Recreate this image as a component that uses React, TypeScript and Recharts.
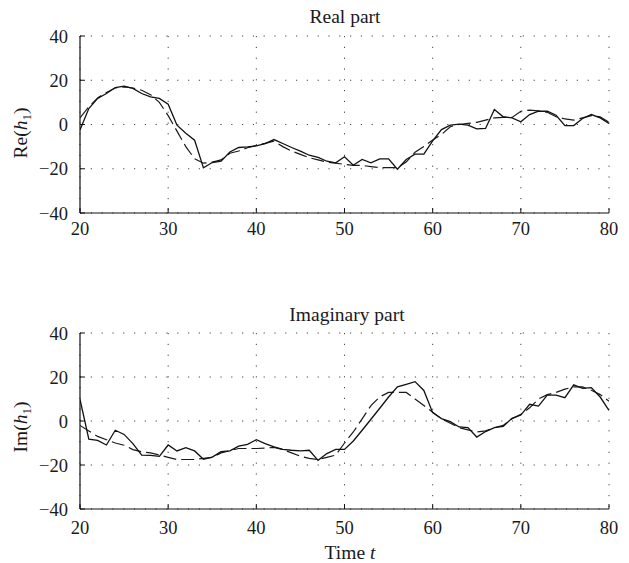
import React from "react";
import { LineChart, Line, XAxis, YAxis, CartesianGrid } from "recharts";

const times = [
  20, 21, 22, 23, 24, 25, 26, 27, 28, 29, 30, 31, 32, 33, 34, 35, 36, 37, 38, 39, 40,
  41, 42, 43, 44, 45, 46, 47, 48, 49, 50, 51, 52, 53, 54, 55, 56, 57, 58, 59, 60,
  61, 62, 63, 64, 65, 66, 67, 68, 69, 70, 71, 72, 73, 74, 75, 76, 77, 78, 79, 80,
];

const reActual = [
  -2.5, 7.2, 11.8, 14, 16.7, 17.3, 16.3, 14, 12.5, 11.8, 9.2, -0.3, -4, -7.1, -19.6, -17.2, -16.6, -12.4, -10.4, -10.1, -9.7,
  -8.6, -6.8, -8.6, -10.4, -12, -13.9, -14.9, -16.6, -17.3, -14.6, -18.4, -15.8, -17.3, -15.5, -15.5, -20.2, -15.8, -13.4, -13.4, -7.4,
  -2.3, -0.3, 0.2, -0.3, -2, -1.8, 6.8, 3.5, 3, 1.2, 4.5, 6, 6, 4.2, -0.5, -0.5, 2.7, 4.5, 3, 0.5,
];

const reEstimate = [
  3, 8, 12, 14.5, 16.5, 17, 16.5, 15.5, 13.5, 10, 4, -3, -10, -15.5, -17.5, -17, -16, -13, -12, -10.5, -9.5,
  -8.5, -7.5, -10, -12, -13.5, -15, -16, -17, -17.5, -18, -18.5, -18.5, -19, -19.5, -19.5, -19.5, -17, -12.5, -10, -7,
  -4.5, -1, 0, 0.5, 1, 2, 3, 3.2, 3.2, 6, 6.5, 6.2, 5.5, 3.5, 2.5, 2, 3, 4, 3.5, 1,
];

const imActual = [
  9.8, -8.3, -8.8, -10.9, -4.2, -6.1, -10.3, -15.5, -15.6, -16.1, -10.9, -13.6, -12.1, -13.6, -17.4, -16.4, -13.9, -13.6, -11.4, -10.6, -8.5,
  -10.3, -11.8, -12.9, -13.3, -13.6, -13.3, -17.9, -14.8, -12.9, -12.9, -9.1, -4.2, 0.8, 5.8, 10.9, 15.5, 16.7, 17.9, 13.9, 3.8,
  1.1, -0.3, -2.7, -3, -7.3, -4.8, -3, -2.4, 1.2, 2.7, 7.6, 6.8, 11.8, 11.8, 10.6, 16.4, 14.8, 15.2, 10.9, 4.8,
];

const imEstimate = [
  -2, -4.5, -7, -8.5, -10, -11, -13, -14, -14.5, -15.5, -16.5, -17.5, -17.5, -17.5, -17, -16.5, -14.5, -13.5, -12.5, -12.5, -12.5,
  -12.3, -12, -13, -14.5, -16, -17, -17.5, -16.5, -15.5, -10, -5, 1, 7, 11, 13, 13, 13, 10, 7, 4,
  1, -1, -3, -4, -5, -4.5, -3, -2, 1, 3, 6, 10, 12, 13, 14.5, 15.5, 15.5, 14, 12, 9,
];

const xTicks = [20, 30, 40, 50, 60, 70, 80];
const yTicks = [-40, -20, 0, 20, 40];

const reRows = times.map((t, i) => ({ t, actual: reActual[i], estimate: reEstimate[i] }));
const imRows = times.map((t, i) => ({ t, actual: imActual[i], estimate: imEstimate[i] }));

const FONT = "'Liberation Serif', 'DejaVu Serif', serif";
const fmt = (v: number) => (v < 0 ? "\u2212" + Math.abs(v) : String(v));
const tickStyle = { fontSize: 18.5, fill: "#1a1a1a", fontFamily: FONT };

function Panel({ rows, margin, xMargin }: { rows: any[]; margin: any; xMargin: number }) {
  return (
    <LineChart width={629} height={250} data={rows} margin={margin}>
      <CartesianGrid stroke="#444" strokeDasharray="1.2 9.6" strokeWidth={1} />
      <XAxis
        dataKey="t"
        type="number"
        domain={[20, 80]}
        ticks={xTicks}
        height={30}
        tickFormatter={fmt}
        tick={tickStyle}
        tickSize={-5}
        tickMargin={xMargin}
        stroke="#111"
        axisLine={{ stroke: "#111", strokeWidth: 1.2 }}
        tickLine={{ stroke: "#111" }}
        allowDataOverflow
      />
      <YAxis
        type="number"
        domain={[-40, 40]}
        ticks={yTicks}
        width={80}
        tickFormatter={fmt}
        tick={tickStyle}
        tickSize={-5}
        tickMargin={17}
        axisLine={{ stroke: "#111", strokeWidth: 1.2 }}
        tickLine={{ stroke: "#111" }}
        allowDataOverflow
      />
      <Line
        type="linear"
        dataKey="estimate"
        stroke="#1a1a1a"
        strokeWidth={1.2}
        strokeDasharray="13 5"
        dot={false}
        isAnimationActive={false}
      />
      <Line
        type="linear"
        dataKey="actual"
        stroke="#111"
        strokeWidth={1.3}
        dot={false}
        isAnimationActive={false}
      />
    </LineChart>
  );
}

export default function App() {
  return (
    <div style={{ position: "absolute", left: 0, top: 0, width: 629, height: 563, background: "#fff" }}>
      <div style={{ position: "absolute", left: 0, top: 0 }}>
        <Panel rows={reRows} margin={{ top: 36, right: 20, bottom: 7, left: 0 }} xMargin={14} />
      </div>
      <div style={{ position: "absolute", left: 0, top: 300 }}>
        <Panel rows={imRows} margin={{ top: 33, right: 20, bottom: 11, left: 0 }} xMargin={17} />
      </div>
      <svg
        width={629}
        height={563}
        style={{ position: "absolute", left: 0, top: 0, pointerEvents: "none" }}
        fontFamily={FONT}
        fill="#1a1a1a"
      >
        <text x={345} y={23} fontSize={19.5} textAnchor="middle">Real part</text>
        <text x={347} y={321} fontSize={19.5} textAnchor="middle">Imaginary part</text>
        <text x={350} y={559} fontSize={19.5} textAnchor="middle">
          Time <tspan fontStyle="italic">t</tspan>
        </text>
        <text x={27} y={133} fontSize={19.5} textAnchor="middle" transform="rotate(-90 27 133)">
          Re(<tspan fontStyle="italic">h</tspan>
          <tspan fontSize={13} dy={4}>1</tspan>
          <tspan dy={-4}>)</tspan>
        </text>
        <text x={27} y={427} fontSize={19.5} textAnchor="middle" transform="rotate(-90 27 427)">
          Im(<tspan fontStyle="italic">h</tspan>
          <tspan fontSize={13} dy={4}>1</tspan>
          <tspan dy={-4}>)</tspan>
        </text>
      </svg>
    </div>
  );
}
